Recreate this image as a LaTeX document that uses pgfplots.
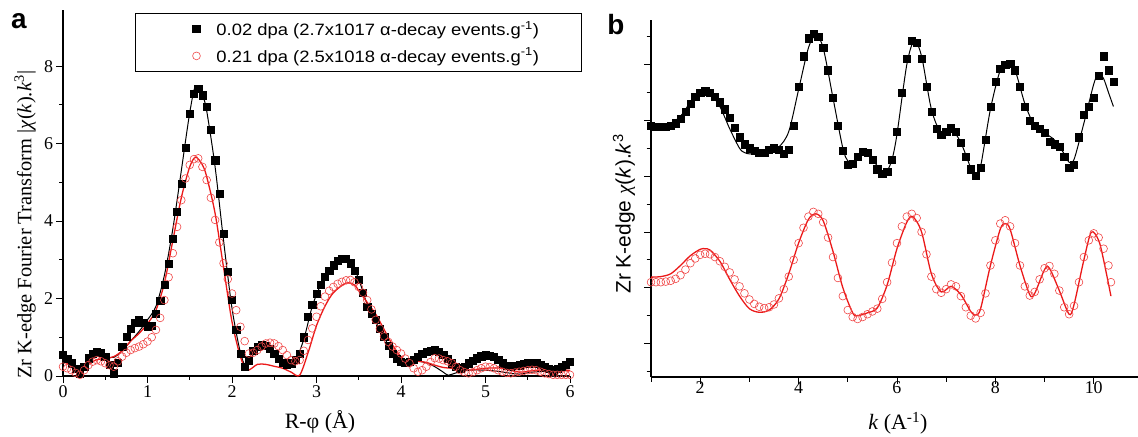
\documentclass[border=0pt]{standalone}
\usepackage{fontspec}
\setmainfont{Liberation Serif}
\setsansfont{Liberation Sans}
\newfontfamily\legfont[FakeStretch=1.12]{Liberation Sans}
\usepackage{pgfplots}
\pgfplotsset{compat=1.18}
\definecolor{myred}{RGB}{235,25,25}
\definecolor{cred}{RGB}{240,70,70}

\pgfplotsset{
  common/.style={
    scale only axis, anchor=south west, clip=false,
    axis x line=bottom, axis y line=left,
    axis line style={-, line width=1.1pt},
    x axis line style={-}, y axis line style={-},
    tick align=outside,
    every tick/.style={black, line width=0.9pt},
    /pgf/number format/assume math mode=true,
    ticklabel style={font=\fontsize{18}{20}\selectfont},
  },
  dat/.style={only marks, mark=square*, mark size=3.6bp, black},
  datr/.style={only marks, mark=o, mark size=3.9bp, cred, mark options={line width=0.6pt}},
}

\begin{document}
\begin{tikzpicture}
\path[use as bounding box] (0,0) rectangle (1138bp,437bp);

\begin{axis}[common,
  at={(63bp,61bp)}, width=507bp, height=366bp,
  xmin=0, xmax=6, ymin=0, ymax=9.45,
  xtick={0,1,2,3,4,5,6}, minor x tick num=1,
  ytick={0,2,4,6,8}, minor y tick num=1,
  major tick length=6.5bp, minor tick length=3.5bp,
  xlabel={R-φ (Å)},
  xlabel style={font=\fontsize{22}{24}\selectfont, at={(axis description cs:0.507,-0.126)}, anchor=center},
  ylabel={Zr K-edge Fourier Transform |\textit{χ}(\textit{k}).\textit{k}\textsuperscript{3}|},
  ylabel style={font=\fontsize{20.5}{22}\selectfont, at={(axis description cs:-0.075,0.413)}, anchor=center, rotate=0},
  legend style={at={(0.142,0.992)}, anchor=north west, draw=black, line width=1pt,
    font=\legfont\fontsize{16.5}{19}\selectfont, inner xsep=4bp, inner ysep=6bp, row sep=7bp},
  legend cell align=left,
  legend image code/.code={\path[draw=none] (0bp,-1bp) rectangle (75bp,1bp); \draw[#1,only marks] plot coordinates {(57bp,0bp)};},
]
\addplot[dat] table {
0.00 0.54
0.05 0.45
0.10 0.33
0.15 0.18
0.20 0.07
0.25 0.25
0.30 0.46
0.35 0.58
0.40 0.63
0.45 0.60
0.50 0.50
0.55 0.30
0.60 0.07
0.65 0.35
0.70 0.76
0.75 1.02
0.80 1.23
0.85 1.38
0.90 1.45
0.95 1.38
1.00 1.27
1.05 1.30
1.10 1.60
1.15 1.95
1.20 2.35
1.25 2.90
1.30 3.55
1.35 4.25
1.40 4.97
1.45 5.90
1.50 6.78
1.55 7.29
1.60 7.42
1.65 7.25
1.70 6.95
1.75 6.35
1.80 5.57
1.85 4.70
1.90 3.68
1.95 2.70
2.00 1.96
2.05 1.20
2.10 0.58
2.15 0.24
2.20 0.41
2.25 0.65
2.30 0.76
2.35 0.80
2.40 0.78
2.45 0.70
2.50 0.58
2.55 0.45
2.60 0.35
2.65 0.30
2.70 0.33
2.75 0.42
2.80 0.58
2.85 1.00
2.90 1.53
2.95 1.85
3.00 2.13
3.05 2.36
3.10 2.56
3.15 2.72
3.20 2.86
3.25 2.97
3.30 3.03
3.35 3.02
3.40 2.91
3.45 2.72
3.50 2.48
3.55 2.15
3.60 1.79
3.65 1.60
3.70 1.45
3.75 1.22
3.80 1.02
3.85 0.78
3.90 0.58
3.95 0.45
4.00 0.37
4.05 0.35
4.10 0.37
4.15 0.43
4.20 0.50
4.25 0.57
4.30 0.63
4.35 0.66
4.40 0.67
4.45 0.62
4.50 0.54
4.55 0.44
4.60 0.33
4.65 0.25
4.70 0.20
4.75 0.25
4.80 0.33
4.85 0.40
4.90 0.46
4.95 0.51
5.00 0.54
5.05 0.53
5.10 0.50
5.15 0.42
5.20 0.33
5.25 0.27
5.30 0.24
5.35 0.26
5.40 0.28
5.45 0.31
5.50 0.33
5.55 0.34
5.60 0.33
5.65 0.29
5.70 0.24
5.75 0.19
5.80 0.15
5.85 0.18
5.90 0.24
5.95 0.30
6.00 0.37
};
\addlegendentry{0.02 dpa (2.7x1017 α-decay events.g\textsuperscript{-1})\hspace*{37bp}}
\addplot[datr] table {
0.00 0.24
0.05 0.20
0.10 0.15
0.15 0.08
0.20 0.03
0.25 0.15
0.30 0.28
0.35 0.37
0.40 0.41
0.45 0.38
0.50 0.33
0.55 0.28
0.60 0.24
0.65 0.38
0.70 0.50
0.75 0.60
0.80 0.67
0.85 0.72
0.90 0.76
0.95 0.82
1.00 0.89
1.05 1.00
1.10 1.19
1.15 1.50
1.20 1.96
1.25 2.55
1.30 3.17
1.35 3.85
1.40 4.54
1.45 5.10
1.50 5.45
1.55 5.60
1.60 5.62
1.65 5.40
1.70 5.06
1.75 4.60
1.80 4.03
1.85 3.45
1.90 2.91
1.95 2.50
2.00 2.13
2.05 1.70
2.10 1.27
2.15 0.90
2.20 0.58
2.25 0.60
2.30 0.67
2.35 0.76
2.40 0.84
2.45 0.86
2.50 0.84
2.55 0.77
2.60 0.67
2.65 0.54
2.70 0.41
2.75 0.38
2.80 0.41
2.85 0.65
2.90 0.93
2.95 1.23
3.00 1.53
3.05 1.80
3.10 2.05
3.15 2.20
3.20 2.30
3.25 2.38
3.30 2.43
3.35 2.47
3.40 2.48
3.45 2.42
3.50 2.30
3.55 2.15
3.60 1.96
3.65 1.72
3.70 1.45
3.75 1.22
3.80 1.02
3.85 0.88
3.90 0.76
3.95 0.67
4.00 0.58
4.05 0.45
4.10 0.33
4.15 0.20
4.20 0.11
4.25 0.15
4.30 0.24
4.35 0.36
4.40 0.46
4.45 0.45
4.50 0.41
4.55 0.38
4.60 0.33
4.65 0.24
4.70 0.15
4.75 0.10
4.80 0.07
4.85 0.10
4.90 0.15
4.95 0.20
5.00 0.24
5.05 0.23
5.10 0.20
5.15 0.15
5.20 0.11
5.25 0.08
5.30 0.07
5.35 0.09
5.40 0.11
5.45 0.13
5.50 0.15
5.55 0.16
5.60 0.15
5.65 0.11
5.70 0.07
5.75 0.05
5.80 0.03
5.85 0.03
5.90 0.03
5.95 0.03
6.00 0.03
};
\addlegendentry{0.21 dpa (2.5x1018 α-decay events.g\textsuperscript{-1})\hspace*{37bp}}
\addplot[black, line width=1pt, smooth, tension=0.5, forget plot] table {
0 0.50
0.1 0.35
0.2 0.05
0.3 0.45
0.4 0.60
0.5 0.50
0.6 0.48
0.7 0.65
0.8 0.90
0.9 1.15
1.0 1.45
1.1 1.80
1.2 2.60
1.3 3.80
1.4 5.30
1.5 6.80
1.57 7.50
1.65 7.25
1.7 6.85
1.8 5.40
1.9 3.50
2.0 1.75
2.1 0.60
2.17 0.25
2.25 0.55
2.35 0.78
2.45 0.68
2.55 0.45
2.65 0.30
2.75 0.40
2.85 0.95
2.95 1.80
3.05 2.35
3.15 2.72
3.25 2.97
3.33 3.04
3.42 2.88
3.5 2.50
3.6 1.85
3.7 1.40
3.8 1.00
3.9 0.60
4.0 0.38
4.1 0.36
4.2 0.38
4.3 0.34
4.4 0.24
4.5 0.10
4.56 0.02
4.65 0.08
4.8 0.15
5.0 0.15
5.15 0.12
5.3 0.07
5.4 0.05
5.55 0.10
5.7 0.12
5.85 0.15
6.0 0.20
};
\addplot[myred, line width=1.3pt, smooth, tension=0.5, forget plot] table {
0 0.40
0.1 0.25
0.2 0.10
0.3 0.30
0.4 0.42
0.5 0.45
0.6 0.50
0.7 0.65
0.8 0.90
0.9 1.10
1.0 1.35
1.1 1.70
1.2 2.40
1.3 3.50
1.4 4.60
1.5 5.40
1.57 5.65
1.65 5.45
1.7 5.15
1.8 4.20
1.9 2.80
2.0 1.40
2.1 0.50
2.18 0.15
2.3 0.30
2.4 0.30
2.5 0.25
2.6 0.20
2.7 0.10
2.8 0.02
2.9 0.60
3.0 1.30
3.1 1.80
3.2 2.15
3.35 2.40
3.45 2.35
3.5 2.20
3.6 1.90
3.7 1.60
3.8 1.20
3.9 0.80
4.0 0.50
4.1 0.37
4.2 0.38
4.3 0.35
4.4 0.28
4.5 0.22
4.6 0.20
4.8 0.15
5.0 0.20
5.2 0.20
5.4 0.10
5.6 0.15
5.8 0.15
6.0 0.15
};
\end{axis}

\begin{axis}[common,
  at={(651bp,60bp)}, width=487bp, height=357bp,
  xmin=1, xmax=10.9, ymin=-0.2, ymax=12.6,
  xtick={2,4,6,8,10}, minor xtick={1,3,5,7,9},
  ytick={1,3,5,7,9,11}, minor ytick={0,2,4,6,8,10,12},
  yticklabels={},
  xticklabel style={yshift=6bp},
  major tick length=7bp, minor tick length=4.5bp,
  xlabel={\textit{k} (A\textsuperscript{-1})},
  xlabel style={font=\fontsize{22}{24}\selectfont, at={(axis description cs:0.507,-0.129)}, anchor=center},
  ylabel={\sffamily Zr K-edge \textit{\rmfamily χ}(\textit{k}).\textit{k}\textsuperscript{3}},
  ylabel style={font=\fontsize{21}{24}\selectfont, at={(axis description cs:-0.0554,0.457)}, anchor=center},
]
\addplot[dat] table {
1.0 8.80
1.1 8.78
1.2 8.77
1.3 8.78
1.4 8.82
1.5 8.90
1.6 9.05
1.7 9.30
1.8 9.60
1.9 9.85
2.0 10.00
2.1 10.05
2.2 10.00
2.3 9.85
2.4 9.65
2.5 9.40
2.6 9.10
2.7 8.75
2.8 8.40
2.9 8.15
3.0 8.00
3.1 7.90
3.2 7.85
3.3 7.85
3.4 7.95
3.5 8.00
3.6 7.95
3.7 7.80
3.8 7.95
3.9 8.80
4.0 10.20
4.1 11.30
4.2 11.95
4.3 12.10
4.4 12.00
4.5 11.60
4.6 10.80
4.7 9.80
4.8 8.80
4.9 7.90
5.0 7.40
5.1 7.45
5.2 7.70
5.3 7.88
5.4 7.85
5.5 7.60
5.6 7.25
5.7 7.10
5.8 7.15
5.9 7.60
6.0 8.60
6.1 10.00
6.2 11.20
6.3 11.85
6.4 11.80
6.5 11.20
6.6 10.20
6.7 9.30
6.8 8.70
6.9 8.50
7.0 8.60
7.1 8.72
7.2 8.60
7.3 8.20
7.4 7.70
7.5 7.25
7.6 7.02
7.7 7.30
7.8 8.30
7.9 9.50
8.0 10.40
8.1 10.85
8.2 11.00
8.3 11.02
8.4 10.80
8.5 10.20
8.6 9.50
8.7 9.00
8.8 8.80
8.9 8.70
9.0 8.55
9.1 8.25
9.2 8.15
9.3 8.05
9.4 7.70
9.5 7.30
9.6 7.40
9.7 8.40
9.8 9.20
9.9 9.50
10.0 9.80
10.1 10.60
10.2 11.30
10.3 10.80
10.4 10.40
};
\addplot[datr] table {
1.0 3.20
1.1 3.20
1.2 3.20
1.3 3.22
1.4 3.25
1.5 3.32
1.6 3.45
1.7 3.65
1.8 3.88
1.9 4.05
2.0 4.18
2.1 4.22
2.2 4.20
2.3 4.10
2.4 3.95
2.5 3.75
2.6 3.55
2.7 3.30
2.8 3.05
2.9 2.80
3.0 2.58
3.1 2.42
3.2 2.32
3.3 2.27
3.4 2.30
3.5 2.40
3.6 2.62
3.7 2.95
3.8 3.40
3.9 4.00
4.0 4.60
4.1 5.15
4.2 5.55
4.3 5.72
4.4 5.65
4.5 5.35
4.6 4.80
4.7 4.10
4.8 3.35
4.9 2.70
5.0 2.20
5.1 1.95
5.2 1.88
5.3 1.95
5.4 2.05
5.5 2.15
5.6 2.25
5.7 2.60
5.8 3.20
5.9 3.90
6.0 4.60
6.1 5.20
6.2 5.55
6.3 5.65
6.4 5.50
6.5 5.00
6.6 4.20
6.7 3.40
6.8 2.95
6.9 2.82
7.0 2.95
7.1 3.12
7.2 3.05
7.3 2.70
7.4 2.30
7.5 2.00
7.6 1.90
7.7 2.10
7.8 2.80
7.9 3.80
8.0 4.70
8.1 5.30
8.2 5.42
8.3 5.20
8.4 4.60
8.5 3.80
8.6 3.05
8.7 2.72
8.8 2.85
8.9 3.30
9.0 3.70
9.1 3.78
9.2 3.50
9.3 2.90
9.4 2.30
9.5 2.05
9.6 2.35
9.7 3.20
9.8 4.10
9.9 4.70
10.0 4.95
10.1 4.80
10.2 4.40
10.3 3.80
10.35 3.20
};
\addplot[black, line width=1pt, smooth, tension=0.5] table {
1.0 8.85
1.2 8.85
1.4 8.90
1.6 9.15
1.8 9.65
2.0 10.0
2.1 10.05
2.2 9.98
2.4 9.50
2.6 8.70
2.8 8.00
2.9 7.85
3.0 7.80
3.2 7.85
3.4 7.95
3.6 8.05
3.8 8.60
4.0 10.10
4.2 11.60
4.35 12.05
4.5 11.60
4.7 9.80
4.9 8.00
5.0 7.55
5.1 7.50
5.2 7.70
5.35 7.85
5.5 7.60
5.7 7.15
5.8 7.20
5.9 7.60
6.0 8.50
6.2 11.00
6.35 11.85
6.5 11.30
6.7 9.40
6.9 8.55
7.1 8.70
7.3 8.20
7.5 7.30
7.6 7.05
7.7 7.35
7.9 9.40
8.1 10.80
8.25 11.02
8.4 10.80
8.6 9.60
8.8 8.80
9.0 8.55
9.2 8.30
9.4 7.80
9.5 7.50
9.6 7.60
9.8 8.90
10.0 10.30
10.1 10.70
10.2 10.50
10.3 10.00
10.4 9.50
};
\addplot[myred, line width=1.3pt, smooth, tension=0.5] table {
1.0 3.38
1.2 3.40
1.4 3.50
1.6 3.80
1.8 4.15
2.0 4.38
2.1 4.40
2.2 4.35
2.4 3.95
2.6 3.30
2.8 2.70
3.0 2.25
3.2 2.12
3.4 2.20
3.6 2.60
3.8 3.50
4.0 4.60
4.2 5.45
4.35 5.65
4.5 5.40
4.7 4.30
4.9 3.00
5.1 2.10
5.2 2.00
5.4 2.10
5.6 2.28
5.8 3.10
6.0 4.40
6.2 5.35
6.32 5.55
6.5 5.00
6.7 3.50
6.9 2.85
7.1 3.05
7.3 2.75
7.5 2.15
7.6 2.02
7.7 2.25
7.9 3.80
8.1 5.10
8.2 5.30
8.3 5.10
8.5 3.80
8.7 2.75
8.8 2.80
9.0 3.65
9.1 3.70
9.3 2.90
9.5 2.05
9.6 2.40
9.8 4.00
9.95 4.99
10.1 4.70
10.2 4.00
10.35 2.70
};
\end{axis}

\node[font=\sffamily\bfseries\fontsize{28}{30}\selectfont] at (19bp,416bp) {a};
\node[font=\sffamily\bfseries\fontsize{28}{30}\selectfont] at (616bp,412bp) {b};
\end{tikzpicture}
\end{document}
